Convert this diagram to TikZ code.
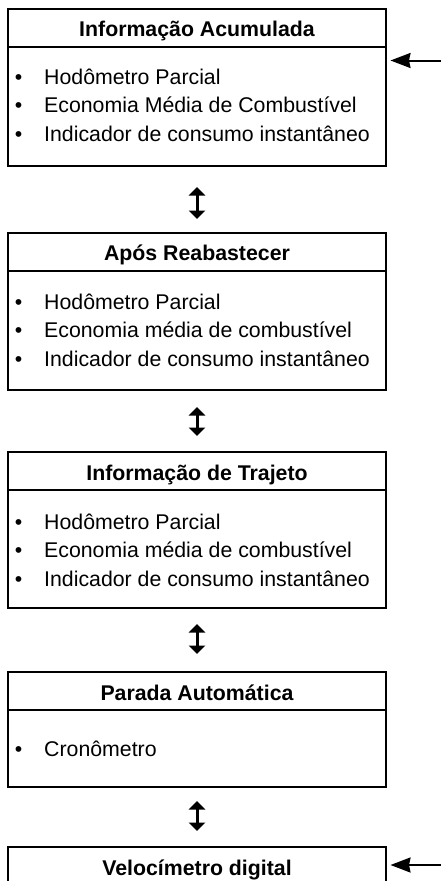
\documentclass[tikz,border=0pt]{standalone}
\usepackage{fontspec}
\setmainfont{Liberation Sans}
\usetikzlibrary{arrows.meta,calc}
\begin{document}
\begin{tikzpicture}[x=1pt,y=-1pt,
  box/.style={draw, line width=1.3pt, minimum width=378pt, inner sep=0pt, outer sep=0pt, anchor=north},
  hline/.style={line width=2pt},
  hdr/.style={font=\fontsize{21.3}{25}\selectfont\bfseries, anchor=base, inner sep=0pt},
  item/.style={font=\fontsize{21.3}{25}\selectfont, anchor=base west, inner sep=0pt},
  dbl/.style={line width=3pt, {Triangle[length=8.5pt,width=16pt]}-{Triangle[length=8.5pt,width=16pt]}},
  side/.style={line width=2pt, -{Stealth[length=20pt,width=15pt,inset=1.5pt]}, shorten >=4.5pt},
]
\useasboundingbox (0,0) rectangle (441,881);
\clip (0,0) rectangle (441,881);
\newcommand{\bul}{\makebox[29.4pt][l]{•}}

% Box 1
\node[box, minimum height=157pt] (B1) at (197,9) {};
\draw[hline] ($(B1.north west)+(0,38)$) -- ($(B1.north east)+(0,38)$);
\node[hdr] (t1) at ($(B1.north)+(0,27.7)$) {Informação Acumulada};
\node[item] (i1a) at (14.6,84) {\bul Hodômetro Parcial};
\node[item] (i1b) at (14.6,112.7) {\bul Economia Média de Combustível};
\node[item] (i1c) at (14.6,141.4) {\bul Indicador de consumo instantâneo};

% Box 2
\node[box, minimum height=157pt] (B2) at (197,233) {};
\draw[hline] ($(B2.north west)+(0,38)$) -- ($(B2.north east)+(0,38)$);
\node[hdr] (t2) at ($(B2.north)+(0,27.5)$) {Após Reabastecer};
\node[item] (i2a) at (14.6,309) {\bul Hodômetro Parcial};
\node[item] (i2b) at (14.6,337.7) {\bul Economia média de combustível};
\node[item] (i2c) at (14.6,366.4) {\bul Indicador de consumo instantâneo};

% Box 3
\node[box, minimum height=156pt] (B3) at (197,452) {};
\draw[hline] ($(B3.north west)+(0,38)$) -- ($(B3.north east)+(0,38)$);
\node[hdr] (t3) at ($(B3.north)+(0,28.5)$) {Informação de Trajeto};
\node[item] (i3a) at (14.6,529) {\bul Hodômetro Parcial};
\node[item] (i3b) at (14.6,557.3) {\bul Economia média de combustível};
\node[item] (i3c) at (14.6,586.7) {\bul Indicador de consumo instantâneo};

% Box 4
\node[box, minimum height=115pt] (B4) at (197,672) {};
\draw[hline] ($(B4.north west)+(0,38)$) -- ($(B4.north east)+(0,38)$);
\node[hdr] (t4) at ($(B4.north)+(0,28.5)$) {Parada Automática};
\node[item] (i4a) at (14.6,756.7) {\bul Cronômetro};

% Box 5
\node[box, minimum height=157pt] (B5) at (197,847) {};
\node[hdr] (t5) at ($(B5.north)+(0,28)$) {Velocímetro digital};

% double arrows
\draw[dbl] ($(B1.south)+(0,21)$) -- ($(B2.north)+(0,-14)$);
\draw[dbl] ($(B2.south)+(0,17)$) -- ($(B3.north)+(0,-16)$);
\draw[dbl] ($(B3.south)+(0,16)$) -- ($(B4.north)+(0,-18)$);
\draw[dbl] ($(B4.south)+(0,14)$) -- ($(B5.north)+(0,-16)$);

% side arrows
\coordinate (e1) at (441,60.5);
\coordinate (e5) at (441,865);
\draw[side] (e1) -- (B1.east |- e1);
\draw[side] (e5) -- (B5.east |- e5);
\end{tikzpicture}
\end{document}
